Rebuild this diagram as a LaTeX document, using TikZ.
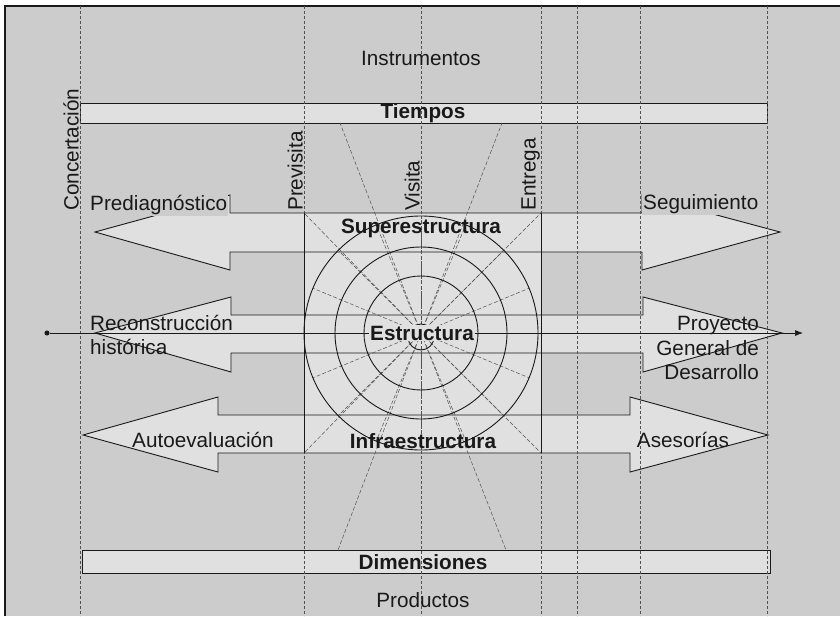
\documentclass[tikz,border=0pt]{standalone}
\usepackage{fontspec}
\setmainfont{Liberation Sans}
\usetikzlibrary{arrows.meta,calc}
\definecolor{bgc}{gray}{0.80}
\definecolor{fillc}{gray}{0.88}
\definecolor{ink}{gray}{0.10}
\definecolor{gridc}{gray}{0.32}
\begin{document}
\begin{tikzpicture}[x=1pt,y=-1pt,
  lbl/.style={font=\fontsize{20.7}{24.5}\selectfont, text=ink, inner sep=1pt},
  blbl/.style={lbl, font=\fontsize{20.7}{24.5}\selectfont\bfseries},
  vlbl/.style={lbl, rotate=90, anchor=south west},
  gridline/.style={gridc, line width=0.6pt, dash pattern=on 3pt off 2pt},
  spoke/.style={gridc, line width=0.5pt, dash pattern=on 4pt off 2pt},
  arrowshape/.style={draw=ink, line width=0.9pt, fill=fillc},
  ring/.style={draw=ink, line width=0.9pt, circle, inner sep=0pt},
]
\useasboundingbox (0,0) rectangle (840,616);
% background
\fill[white] (0,0) rectangle (840,616);
\fill[bgc] (5,6) rectangle (840,616);
\draw[ink, line width=1.4pt] (5,616) -- (5,6) -- (840,6);

% central box
\fill[fillc] (304,213) rectangle (541,453);

% bars
\draw[arrowshape] (80,103) rectangle (767,123);
\draw[arrowshape] (82,550) rectangle (770,573);

% double arrows
\draw[arrowshape] (95,232) -- (230,195) -- (230,213) -- (642,213) -- (642,195)
  -- (780,232) -- (642,270) -- (642,252) -- (230,252) -- (230,270) -- cycle;
\draw[arrowshape] (95,333) -- (231,297) -- (231,315) -- (643,315) -- (643,297)
  -- (782,333) -- (643,372) -- (643,353) -- (231,353) -- (231,372) -- cycle;
\draw[arrowshape] (83,435) -- (218,397) -- (218,415) -- (630,415) -- (630,397)
  -- (768,435) -- (630,472) -- (630,453) -- (218,453) -- (218,472) -- cycle;

% grid lines
\foreach \gx in {80,304,421,541,577,640,767}
  \draw[gridline] (\gx,6) -- (\gx,616);

% center
\coordinate (C) at (421,333);
% spokes
\foreach \a in {0,22.5,...,337.5}
  \draw[spoke] ([shift={(\a:13pt)}]C) -- ([shift={(\a:117pt)}]C);
\coordinate (t1) at (340,123);
\coordinate (t2) at (502,123);
\coordinate (b1) at (338,550);
\coordinate (b2) at (506,550);
\coordinate (k1) at (304,213);
\coordinate (k2) at (541,213);
\coordinate (k3) at (304,453);
\coordinate (k4) at (541,453);
\foreach \p in {t1,t2,b1,b2,k1,k2,k3,k4}
  \draw[spoke] (C) -- (\p);

% solid box sides
\draw[ink, line width=0.8pt] (k1) -- (k3);
\draw[ink, line width=0.8pt] (k2) -- (k4);

% rings
\node[ring, minimum size=234pt] (r4) at (C) {};
\node[ring, minimum size=172pt] (r3) at (C) {};
\node[ring, minimum size=114pt] (r2) at (C) {};
\node[ring, minimum size=26pt] (r1) at ($(C)+(0,4)$) {};

% axis
\node[circle, fill=ink, inner sep=1.8pt] (dot) at (47,333) {};
\coordinate (axend) at (803,333);
\draw[ink, line width=0.7pt, -{Latex[length=8pt,width=6pt]}] (dot) -- (axend);

% texts
\node[lbl] (instr) at (421,58) {Instrumentos};
\node[blbl] (tiempos) at (423,113) {Tiempos};
\node[vlbl] (conc) at (80,212) {Concertación};
\node[vlbl] (prev) at (304,212) {Previsita};
\node[vlbl] (visita) at (421,212) {Visita};
\node[vlbl] (entrega) at (541,212) {Entrega};
\node[lbl, anchor=west, fill=bgc] (prediag) at (89,205) {Prediagnóstico};
\node[blbl] (super) at (421,228) {Superestructura};
\node[lbl, anchor=west, fill=bgc] (seguim) at (642,204) {Seguimiento};
\node[lbl, anchor=west, align=left] (recon) at (89,335) {Reconstrucción\\histórica};
\node[blbl, fill=fillc] (estr) at (422,333) {Estructura};
\node[lbl, anchor=east, align=right] (proy) at (760,348) {Proyecto\\General de\\Desarrollo};
\node[lbl] (autoev) at (203,440) {Autoevaluación};
\node[blbl] (infra) at (423,441) {Infraestructura};
\node[lbl] (aseso) at (683,440) {Asesorías};
\node[blbl] (dimen) at (423,562) {Dimensiones};
\node[lbl] (produc) at (423,600) {Productos};
\end{tikzpicture}
\end{document}
